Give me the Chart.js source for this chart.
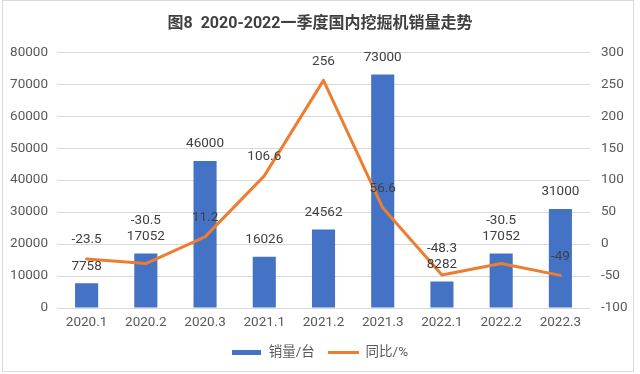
<!DOCTYPE html>
<html>
<head>
<meta charset="utf-8">
<script src="https://cdn.jsdelivr.net/npm/chart.js@4"></script>
<style>
  html, body { margin: 0; padding: 0; background: #fff; }
  #wrap { width: 640px; height: 374px; position: relative; }
</style>
</head>
<body>
<div id="wrap"><canvas id="chart"></canvas></div>
<script>
// 数据
const quarters = ['2020.1', '2020.2', '2020.3', '2021.1', '2021.2', '2021.3', '2022.1', '2022.2', '2022.3'];
const sales = [7758, 17052, 46000, 16026, 24562, 73000, 8282, 17052, 31000];
const yoy = [-23.5, -30.5, 11.2, 106.6, 256, 56.6, -48.3, -30.5, -49];

const FONT = "Roboto, 'Noto Sans CJK SC', sans-serif";
const BLUE = '#4472C4';
const ORANGE = '#ED7D31';

// legend swatches
function swatch(w, h, color) {
  const c = document.createElement('canvas');
  c.width = w; c.height = h;
  const g = c.getContext('2d');
  g.fillStyle = color;
  g.fillRect(0, 0, w, h);
  return c;
}
const barSwatch = swatch(29, 5, BLUE);
const lineSwatch = swatch(31, 3, ORANGE);

// data labels + chart border
const labelPlugin = {
  id: 'labels',
  afterDatasetsDraw(chart) {
    const ctx = chart.ctx;
    const bars = chart.getDatasetMeta(0).data;
    const pts = chart.getDatasetMeta(1).data;
    ctx.save();
    ctx.font = '13.5px ' + FONT;
    ctx.fillStyle = '#404040';
    ctx.textAlign = 'center';
    ctx.textBaseline = 'middle';
    bars.forEach((el, j) => {
      ctx.fillText(String(sales[j]), el.x, el.y - 17);
    });
    pts.forEach((el, j) => {
      let y = el.y - 19;
      const barY = bars[j].y - 17;
      // keep clear of the bar's label
      if (Math.abs(y - barY) < 15) y = barY - 15.5;
      ctx.fillText(String(yoy[j]), el.x, y);
    });
    ctx.restore();
  },
  afterDraw(chart) {
    const ctx = chart.ctx;
    ctx.save();
    ctx.strokeStyle = '#d9d9d9';
    ctx.lineWidth = 1;
    ctx.strokeRect(2.5, 0.5, 631, 371);
    ctx.restore();
  }
};

const ctx = document.getElementById('chart').getContext('2d');
new Chart(ctx, {
  type: 'bar',
  data: {
    labels: quarters,
    datasets: [
      {
        label: '销量/台',
        data: sales,
        backgroundColor: BLUE,
        yAxisID: 'y',
        categoryPercentage: 1,
        barPercentage: 0.39,
        order: 2
      },
      {
        type: 'line',
        label: '同比/%',
        data: yoy,
        borderColor: ORANGE,
        backgroundColor: ORANGE,
        borderWidth: 3,
        pointRadius: 0,
        tension: 0,
        borderJoinStyle: 'round',
        borderCapStyle: 'round',
        yAxisID: 'y1',
        order: 1
      }
    ]
  },
  options: {
    responsive: true,
    maintainAspectRatio: false,
    animation: false,
    layout: { padding: { left: 0, right: 0, top: 0, bottom: 5 } },
    plugins: {
      title: {
        display: true,
        text: '图8  2020-2022一季度国内挖掘机销量走势',
        color: '#404040',
        font: { family: FONT, size: 16, weight: 'bold' },
        padding: { top: 14, bottom: 19 }
      },
      legend: {
        position: 'bottom',
        labels: {
          usePointStyle: true,
          pointStyleWidth: 30,
          padding: 14,
          color: '#595959',
          font: { family: FONT, size: 13.5 },
          generateLabels(chart) {
            return chart.data.datasets.map((ds, i) => ({
              text: ds.label,
              pointStyle: i === 0 ? barSwatch : lineSwatch,
              fillStyle: i === 0 ? BLUE : ORANGE,
              strokeStyle: 'transparent',
              lineWidth: 0,
              fontColor: '#595959',
              datasetIndex: i,
              hidden: false
            }));
          }
        }
      },
      tooltip: { enabled: false }
    },
    scales: {
      x: {
        grid: { display: false, drawTicks: false },
        border: { display: false },
        ticks: { color: '#595959', font: { family: FONT, size: 13.5 }, padding: 7, maxRotation: 0 },
        afterFit(s) { s.height = 23.5; }
      },
      y: {
        position: 'left',
        min: 0,
        max: 80000,
        grid: { color: '#d9d9d9', drawTicks: false },
        border: { display: false },
        ticks: { stepSize: 10000, color: '#595959', font: { family: FONT, size: 13.5 }, padding: 9, callback: v => String(v) },
        afterFit(s) { s.width = 57; }
      },
      y1: {
        position: 'right',
        min: -100,
        max: 300,
        grid: { drawOnChartArea: false, drawTicks: false },
        border: { display: false },
        ticks: { stepSize: 50, color: '#595959', font: { family: FONT, size: 13.5 }, padding: 11, callback: v => String(v) },
        afterFit(s) { s.width = 50; }
      }
    }
  },
  plugins: [labelPlugin]
});
</script>
</body>
</html>
